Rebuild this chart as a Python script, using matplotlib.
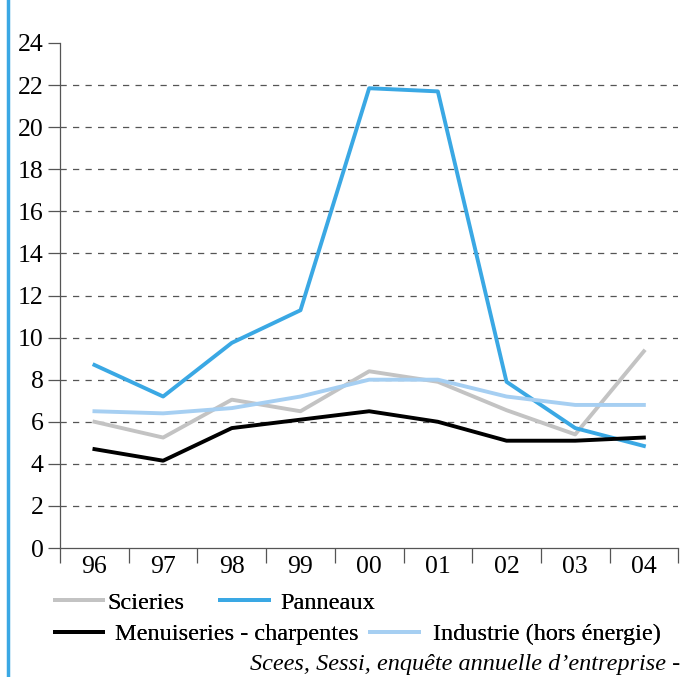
import matplotlib.pyplot as plt
from matplotlib.lines import Line2D
import numpy as np

plt.rcParams['font.family'] = ['Liberation Serif', 'DejaVu Serif']

years = ["96", "97", "98", "99", "00", "01", "02", "03", "04"]
scieries = [6.0, 5.25, 7.05, 6.5, 8.4, 7.9, 6.55, 5.4, 9.35]
panneaux = [8.7, 7.2, 9.75, 11.3, 21.85, 21.7, 7.9, 5.7, 4.85]
menuiseries = [4.7, 4.15, 5.7, 6.1, 6.5, 6.0, 5.1, 5.1, 5.25]
industrie = [6.5, 6.4, 6.65, 7.2, 8.0, 8.0, 7.2, 6.8, 6.8]

fig = plt.figure(figsize=(6.83, 6.77), dpi=100)
ax = fig.add_axes([0.088, 0.1905, 0.905, 0.746])

x = np.arange(len(years))
l_sci, = ax.plot(x, scieries, color="#c3c3c3", lw=2.8, label="Scieries")
l_pan, = ax.plot(x, panneaux, color="#3aa8e4", lw=2.8, label="Panneaux")
l_men, = ax.plot(x, menuiseries, color="black", lw=2.8, label="Menuiseries - charpentes")
l_ind, = ax.plot(x, industrie, color="#a6cff2", lw=2.8, label="Industrie (hors énergie)")

ax.set_xlim(-0.5, len(years) - 0.5)
ax.set_ylim(0, 24)
ax.set_yticks(range(0, 25, 2))
for v in range(2, 23, 2):
    ax.axhline(v, color="#555555", lw=0.9, ls=(0, (5, 5)), zorder=0)

ax.set_xticks(np.arange(-0.5, len(years), 1.0))
ax.set_xticklabels([])
ax.set_xticks(x, minor=True)
ax.set_xticklabels(years, minor=True, fontsize=18.5)
ax.tick_params(axis="x", which="major", length=11, width=0.9, color="#555555", direction="out")
ax.tick_params(axis="x", which="minor", length=0, pad=6)
ax.tick_params(axis="y", length=9, width=0.9, color="#555555", labelsize=18.5, pad=3)

for s in ["top", "right"]:
    ax.spines[s].set_visible(False)
for s in ["left", "bottom"]:
    ax.spines[s].set_color("#555555")
    ax.spines[s].set_linewidth(0.9)

# one legend per entry, placed like the original
entries = [(l_sci, 0.080, 0.110, 0.15), (l_pan, 0.322, 0.110, 0.5),
           (l_men, 0.080, 0.0635, 0.5), (l_ind, 0.542, 0.0635, 0.6)]
for h, lx, ly, pad in entries:
    leg = fig.legend(handles=[h], loc="center left", bbox_to_anchor=(lx, ly),
                     frameon=False, fontsize=17.5, handlelength=2.0, handletextpad=pad,
                     borderpad=0, borderaxespad=0)
    fig.add_artist(leg)

fig.text(0.996, 0.019, "Scees, Sessi, enquête annuelle d’entreprise -", ha="right", va="center",
         fontsize=17.5, style="italic")

fig.add_artist(Line2D([0.012, 0.012], [0, 1], color="#3aa8e4", lw=2.5, transform=fig.transFigure))

fig.savefig("out.png", dpi=100)
